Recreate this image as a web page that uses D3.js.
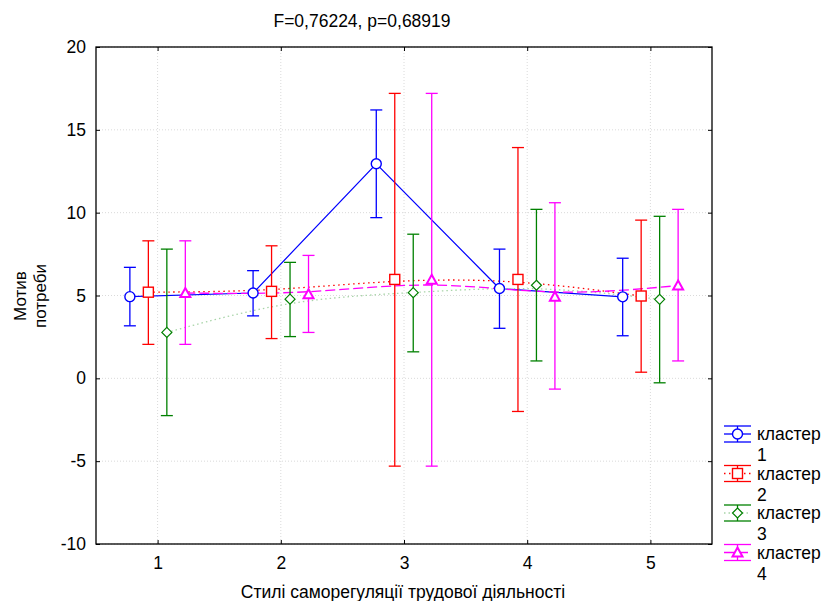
<!DOCTYPE html>
<html>
<head>
<meta charset="utf-8">
<script src="https://cdn.jsdelivr.net/npm/d3@7"></script>
<style>
  body { margin: 0; background: white; }
  text { font-family: "Liberation Sans", Arial, sans-serif; }
</style>
</head>
<body>
<div id="chart"></div>
<script>
// Data
const groups = [1, 2, 3, 4, 5];
const clusterNames = ["кластер 1", "кластер 2", "кластер 3", "кластер 4"];
const yTicks = [-10, -5, 0, 5, 10, 15, 20];

const mean1 = [4.93, 5.15, 12.95, 5.42, 4.92];
const upper1 = [6.7, 6.5, 16.2, 7.8, 7.25];
const lower1 = [3.17, 3.77, 9.7, 3.02, 2.57];

const mean2 = [5.2, 5.25, 5.97, 5.97, 4.97];
const upper2 = [8.3, 8.0, 17.2, 13.93, 9.55];
const lower2 = [2.05, 2.4, -5.3, -2.0, 0.37];

const mean3 = [2.77, 4.78, 5.17, 5.62, 4.77];
const upper3 = [7.8, 7.0, 8.7, 10.2, 9.78];
const lower3 = [-2.25, 2.52, 1.6, 1.05, -0.27];

const mean4 = [5.15, 5.07, 5.95, 4.93, 5.6];
const upper4 = [8.3, 7.42, 17.2, 10.6, 10.2];
const lower4 = [2.05, 2.77, -5.3, -0.65, 1.05];

const title = "F=0,76224, p=0,68919";
const xTitle = "Стилі саморегуляції трудової діяльності";
const yTitle = ["Мотив", "потреби"];

// Dimensions
const width = 823, height = 601;
const margin = {top: 47, bottom: 57, left: 96, right: 111};
const fs = '17.5px';

const svg = d3.select('#chart')
  .append('svg')
  .attr('width', width)
  .attr('height', height)
  .style('background', 'white');

const xScale = d3.scaleLinear()
  .domain([0.5, 5.5])
  .range([margin.left, width - margin.right]);

const yScale = d3.scaleLinear()
  .domain([-10, 20])
  .range([height - margin.bottom, margin.top]);

// grid
svg.append('g')
  .selectAll('line')
  .data(yTicks)
  .join('line')
  .attr('x1', margin.left).attr('x2', width - margin.right)
  .attr('y1', d => yScale(d)).attr('y2', d => yScale(d))
  .attr('stroke', '#dadada').attr('stroke-width', 1)
  .attr('stroke-dasharray', '1,2');

svg.append('g')
  .selectAll('line')
  .data(groups)
  .join('line')
  .attr('x1', d => xScale(d)).attr('x2', d => xScale(d))
  .attr('y1', margin.top).attr('y2', height - margin.bottom)
  .attr('stroke', '#dadada').attr('stroke-width', 1)
  .attr('stroke-dasharray', '1,2');

// axes (ticks pointing inward)
const axisStyle = g => {
  g.select('.domain').remove();
  g.selectAll('line').attr('stroke', 'black');
  g.selectAll('text').style('font-size', fs).attr('fill', 'black');
};

svg.append('g')
  .attr('transform', `translate(0,${height - margin.bottom})`)
  .call(d3.axisBottom(xScale).tickValues(groups).tickSize(-4).tickPadding(13).tickFormat(d3.format('d')))
  .call(axisStyle);

svg.append('g')
  .attr('transform', `translate(0,${margin.top})`)
  .call(d3.axisTop(xScale).tickValues(groups).tickSize(-4).tickFormat(''))
  .call(axisStyle);

svg.append('g')
  .attr('transform', `translate(${margin.left},0)`)
  .call(d3.axisLeft(yScale).tickValues(yTicks).tickSize(-4).tickPadding(10).tickFormat(d => String(d)))
  .call(axisStyle);

svg.append('g')
  .attr('transform', `translate(${width - margin.right},0)`)
  .call(d3.axisRight(yScale).tickValues(yTicks).tickSize(-4).tickFormat(''))
  .call(axisStyle);

svg.append('rect')
  .attr('x', margin.left).attr('y', margin.top)
  .attr('width', width - margin.left - margin.right)
  .attr('height', height - margin.top - margin.bottom)
  .attr('fill', 'none').attr('stroke', 'black').attr('stroke-width', 1.3);

// series definitions
const series = [
  {name: clusterNames[0], mean: mean1, upper: upper1, lower: lower1, color: '#0000ff', lineColor: '#0000ff',
   dash: null, curve: d3.curveLinear, symbol: 'circle', offset: -0.225},
  {name: clusterNames[1], mean: mean2, upper: upper2, lower: lower2, color: '#ff0000', lineColor: '#ff0000',
   dash: '1.5,3.5', curve: d3.curveBasis, symbol: 'square', offset: -0.075},
  {name: clusterNames[2], mean: mean3, upper: upper3, lower: lower3, color: '#008000', lineColor: '#a8d4a8',
   dash: '1.5,3', curve: d3.curveBasis, symbol: 'diamond', offset: 0.075},
  {name: clusterNames[3], mean: mean4, upper: upper4, lower: lower4, color: '#ff00ff', lineColor: '#ff00ff',
   dash: '10,4', curve: d3.curveBasis, symbol: 'triangle', offset: 0.225}
];

const capW = 6;

function drawMarker(g, type, x, y, color) {
  if (type === 'circle') {
    g.append('circle').attr('cx', x).attr('cy', y).attr('r', 5)
      .attr('fill', 'white').attr('stroke', color).attr('stroke-width', 1.4);
  } else if (type === 'square') {
    g.append('rect').attr('x', x - 5).attr('y', y - 5).attr('width', 10).attr('height', 10)
      .attr('fill', 'white').attr('stroke', color).attr('stroke-width', 1.4);
  } else if (type === 'diamond') {
    g.append('path').attr('d', `M${x},${y - 5}L${x + 5},${y}L${x},${y + 5}L${x - 5},${y}Z`)
      .attr('fill', 'white').attr('stroke', color).attr('stroke-width', 1.2);
  } else {
    g.append('path').attr('d', `M${x},${y - 5}L${x + 5},${y + 4}L${x - 5},${y + 4}Z`)
      .attr('fill', 'white').attr('stroke', color).attr('stroke-width', 2);
  }
}

// connecting lines
series.forEach(s => {
  const pts = groups.map((g, i) => [xScale(g + s.offset), yScale(s.mean[i])]);
  svg.append('path')
    .datum(pts)
    .attr('d', d3.line().curve(s.curve))
    .attr('fill', 'none')
    .attr('stroke', s.lineColor)
    .attr('stroke-width', s.dash ? 1.3 : 1.2)
    .attr('stroke-dasharray', s.dash);
});

// error bars and markers
series.forEach(s => {
  const g = svg.append('g');
  groups.forEach((grp, i) => {
    const x = xScale(grp + s.offset);
    g.append('line')
      .attr('x1', x).attr('x2', x)
      .attr('y1', yScale(s.upper[i])).attr('y2', yScale(s.lower[i]))
      .attr('stroke', s.color).attr('stroke-width', 1.3);
    [s.upper[i], s.lower[i]].forEach(v => {
      g.append('line')
        .attr('x1', x - capW).attr('x2', x + capW)
        .attr('y1', yScale(v)).attr('y2', yScale(v))
        .attr('stroke', s.color).attr('stroke-width', 1.3);
    });
  });
  groups.forEach((grp, i) => {
    drawMarker(g, s.symbol, xScale(grp + s.offset), yScale(s.mean[i]), s.color);
  });
});

// legend
const legend = svg.append('g').attr('transform', 'translate(724,434)');
series.forEach((s, i) => {
  const g = legend.append('g').attr('transform', `translate(0,${i * 39.5})`);
  [-8, 8].forEach(dy => {
    g.append('line').attr('x1', 0).attr('x2', 27).attr('y1', dy).attr('y2', dy)
      .attr('stroke', s.color).attr('stroke-width', 1.3);
  });
  g.append('line').attr('x1', 0).attr('x2', 27).attr('y1', 0).attr('y2', 0)
    .attr('stroke', s.lineColor).attr('stroke-width', 1.3).attr('stroke-dasharray', s.dash);
  g.append('line').attr('x1', 13.5).attr('x2', 13.5).attr('y1', -8).attr('y2', 8)
    .attr('stroke', s.color).attr('stroke-width', 1.3);
  drawMarker(g, s.symbol, 13.5, 0, s.color);
  const parts = s.name.split(' ');
  g.append('text').attr('x', 33).attr('y', 6).text(parts[0]).style('font-size', fs);
  g.append('text').attr('x', 33).attr('y', 27).text(parts[1]).style('font-size', fs);
});

// titles
svg.append('text')
  .text(title)
  .attr('x', 362).attr('y', 27)
  .attr('text-anchor', 'middle')
  .style('font-size', fs);

svg.append('text')
  .text(xTitle)
  .attr('x', 403).attr('y', 598)
  .attr('text-anchor', 'middle')
  .style('font-size', fs);

const yt = svg.append('text')
  .attr('transform', 'rotate(-90)')
  .attr('text-anchor', 'middle')
  .style('font-size', '17px');
yTitle.forEach((t, i) => {
  yt.append('tspan').attr('x', -296).attr('y', 26 + i * 20).text(t);
});
</script>
</body>
</html>
